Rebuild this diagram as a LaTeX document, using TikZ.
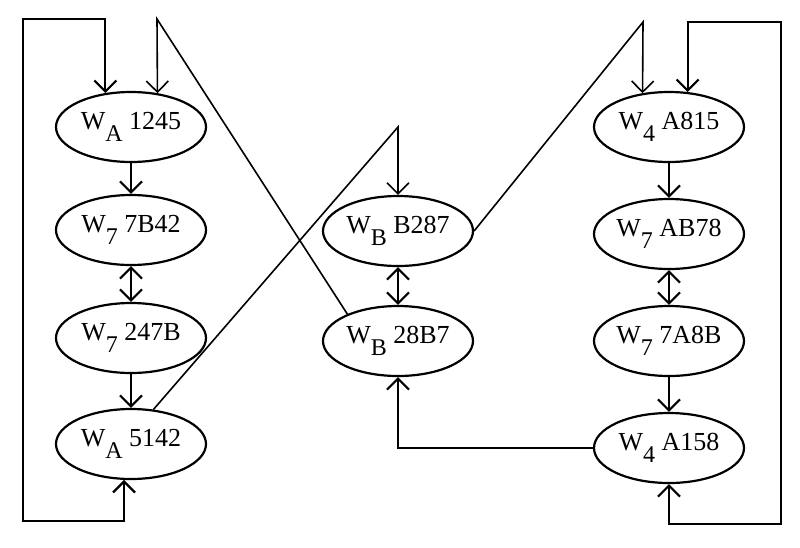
\documentclass[tikz,border=0pt]{standalone}
\usepackage{fontspec}
\setmainfont{Liberation Serif}
\usetikzlibrary{arrows.meta,shapes.geometric}

\newcommand{\wlab}[2]{W\raisebox{-12pt}{\fontsize{24}{24}\selectfont #1}~#2}

\begin{document}
\begin{tikzpicture}[x=1pt,y=-1pt,
  wnode/.style={ellipse, draw, line width=2.2pt, minimum width=150pt, minimum height=70pt, inner sep=0pt, font=\fontsize{26}{26}\selectfont},
  flow/.style={line width=2.2pt, >={Straight Barb[length=11pt,width=22pt]}},
  cross/.style={line width=1.6pt, >={Straight Barb[length=11pt,width=22pt]}}]
\useasboundingbox (0,0) rectangle (800,547);

% left column
\node[wnode] (w1245) at (131,127) {\wlab{A}{1245}};
\node[wnode] (w7B42) at (131,230) {\wlab{7}{7B42}};
\node[wnode] (w247B) at (131,338) {\wlab{7}{247B}};
\node[wnode] (w5142) at (131,444) {\wlab{A}{5142}};
% middle column
\node[wnode] (wB287) at (398,231) {\wlab{B}{B287}};
\node[wnode] (w28B7) at (398,341) {\wlab{B}{28B7}};
% right column
\node[wnode] (wA815) at (669,127) {\wlab{4}{A815}};
\node[wnode] (wAB78) at (669,234) {\wlab{7}{AB78}};
\node[wnode] (w7A8B) at (669,341) {\wlab{7}{7A8B}};
\node[wnode] (wA158) at (669,448) {\wlab{4}{A158}};

% bends
\coordinate (lt) at (23,19);
\coordinate (lb) at (23,521);
\coordinate (tm1) at (157,19);
\coordinate (tm2) at (398,127);
\coordinate (tr1) at (643,22);
\coordinate (rt) at (781,22);
\coordinate (rb) at (781,524);

\draw[flow,->] (w1245) -- (w7B42);
\draw[flow,<->] (w7B42) -- (w247B);
\draw[flow,->] (w247B) -- (w5142);
\draw[flow,<->] (w1245.127) |- (lt) -- (lb) -| (w5142.259);

\draw[flow,<->] (wB287) -- (w28B7);
\draw[flow,->] (wA158.west) -| (w28B7.south);

\draw[flow,->] (wA815) -- (wAB78);
\draw[flow,<->] (wAB78) -- (w7A8B);
\draw[flow,->] (w7A8B) -- (wA158);
\draw[flow,<->] (wA815.62) |- (rt) -- (rb) -| (wA158.south);

% crossing lines
\draw[cross,->] (w28B7.152) -- (tm1) -- (w1245.52);
\draw[cross,->] (w5142.57) -- (tm2) -- (wB287);
\draw[cross,->] (wB287.east) -- (tr1) -- (wA815.128);
\end{tikzpicture}
\end{document}
